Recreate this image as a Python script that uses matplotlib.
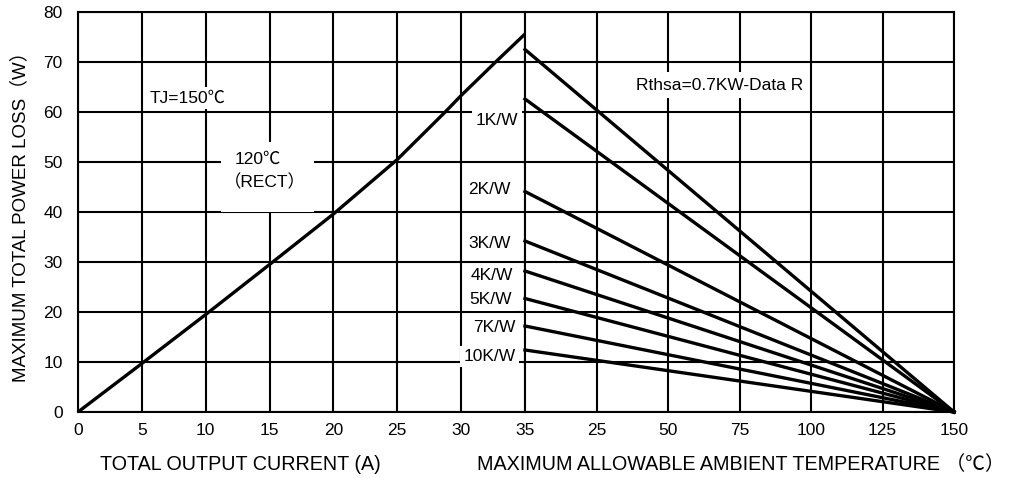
import matplotlib
matplotlib.use("Agg")
import matplotlib.pyplot as plt
from matplotlib.patches import Rectangle

plt.rcParams['font.family'] = ['Liberation Sans', 'Noto Sans CJK SC', 'DejaVu Sans']

# ---- data ----
current_a = [0, 5, 10, 15, 20, 25, 28.75, 30, 32.7, 35]
power_w = [0, 9.7, 19.5, 29.5, 39.6, 50.5, 60, 63.3, 70, 75.6]

temp_ticks = [0, 25, 50, 75, 100, 125, 150]
temp_ticklabels = ['', '25', '50', '75', '100', '125', '150']
current_ticks = [0, 5, 10, 15, 20, 25, 30, 35]
y_ticks = [0, 10, 20, 30, 40, 50, 60, 70, 80]

rth_labels = ['Rthsa=0.7KW-Data R', '1K/W', '2K/W', '3K/W', '4K/W', '5K/W', '7K/W', '10K/W']
rth_start_w = [72.5, 62.6, 44.1, 34.2, 28.2, 22.7, 17.2, 12.4]
t_start = 0
t_end = 150

W, H = 1011, 478
fig = plt.figure(figsize=(W / 100, H / 100), dpi=100)

left_px, right_px, split_px = 78, 954, 525
top_px, bot_px = 12, 412
ax1 = fig.add_axes([left_px / W, 1 - bot_px / H, (split_px - left_px) / W, (bot_px - top_px) / H])
ax2 = fig.add_axes([split_px / W, 1 - bot_px / H, (right_px - split_px) / W, (bot_px - top_px) / H])
ax2.patch.set_visible(False)

LW_GRID = 1.5
LW_CURVE = 2.4
TICK_FS = 12.5
for ax in (ax1, ax2):
    ax.set_ylim(0, 80)
    ax.set_yticks(y_ticks)
    ax.grid(True, color='black', linewidth=LW_GRID)
    for s in ax.spines.values():
        s.set_linewidth(LW_GRID)
    ax.tick_params(length=0, labelsize=TICK_FS, pad=8)

ax1.set_xlim(0, 35)
ax1.set_xticks(current_ticks)
ax1.set_yticklabels([str(v) for v in y_ticks])
ax1.tick_params(axis='y', pad=11)

ax2.set_xlim(0, 150)
ax2.set_xticks(temp_ticks)
ax2.set_xticklabels(temp_ticklabels)
ax2.set_yticklabels([])
ax2.spines['left'].set_visible(False)
ax2.xaxis.get_gridlines()[0].set_visible(False)

# left curve
ax1.plot(current_a, power_w, color='black', lw=LW_CURVE, solid_joinstyle='round', zorder=3)

# right lines
for w in rth_start_w:
    ax2.plot([t_start, t_end], [w, 0], color='black', lw=LW_CURVE, clip_on=False, zorder=3)

# annotations
box = dict(facecolor='white', edgecolor='none', pad=2.5)
ANN_FS = 12.5
ax1.text(8.6, 62.8, 'TJ=150℃', ha='center', va='center', fontsize=ANN_FS, bbox=box, zorder=4)
ax1.add_patch(Rectangle((11.2, 40.1), 7.3, 14.0, facecolor='white', edgecolor='none', zorder=1.8))
ax1.text(14.1, 50.6, '120℃', ha='center', va='center', fontsize=ANN_FS, zorder=4)
ax1.text(14.6, 45.9, '（RECT）', ha='center', va='center', fontsize=ANN_FS, zorder=4)

label_pos = [(32.8, 58.3), (32.2, 44.6), (32.2, 33.8), (32.4, 27.4),
             (32.3, 22.4), (32.6, 16.8), (32.2, 11.1)]
for lab, (x, y) in zip(rth_labels[1:], label_pos):
    ax1.text(x, y, lab, ha='center', va='center', fontsize=ANN_FS, bbox=box, zorder=4)

ax2.text(68.0, 65.4, rth_labels[0], ha='center', va='center', fontsize=ANN_FS,
         bbox=dict(facecolor='white', edgecolor='none', pad=4), zorder=4)

LAB_FS = 14.2
fig.text(240 / W, 1 - 465 / H, 'TOTAL OUTPUT CURRENT (A)', ha='center', va='center', fontsize=LAB_FS)
fig.text(741 / W, 1 - 465 / H, 'MAXIMUM ALLOWABLE AMBIENT TEMPERATURE （℃）', ha='center', va='center', fontsize=LAB_FS)
fig.text(20 / W, 1 - 212 / H, 'MAXIMUM TOTAL POWER LOSS（W）', ha='center', va='center',
         rotation=90, fontsize=13.5)

fig.savefig('out.png', dpi=100, facecolor='white')
